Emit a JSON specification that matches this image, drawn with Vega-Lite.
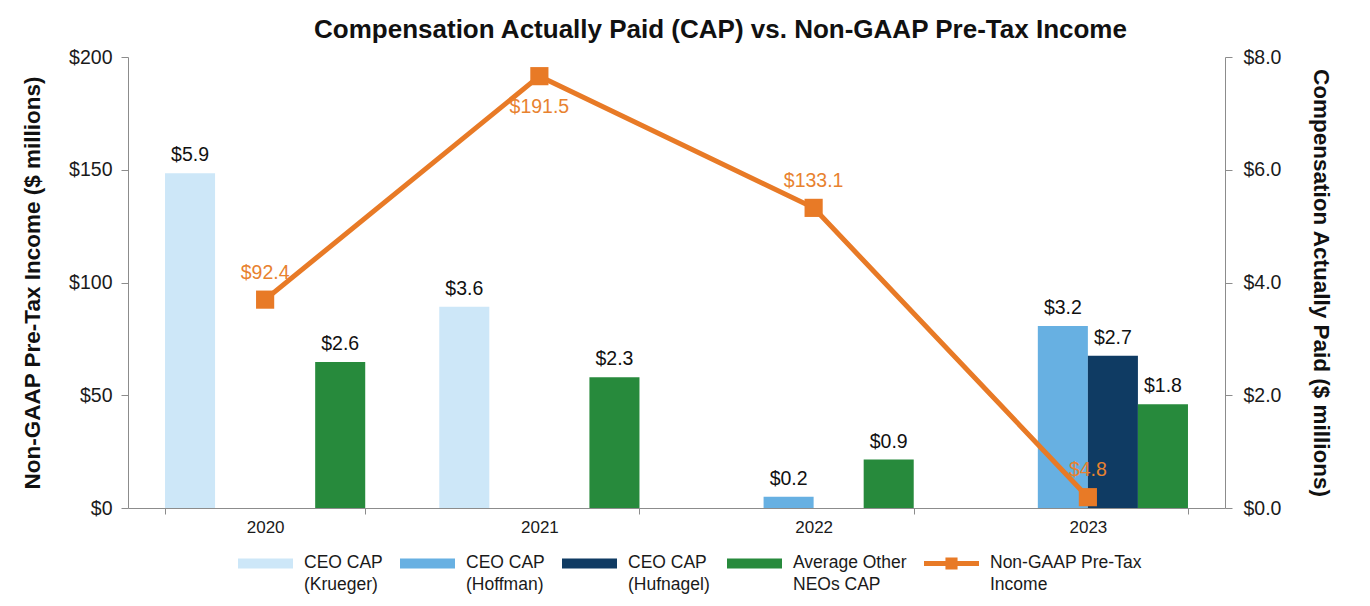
{
  "$schema": "https://vega.github.io/schema/vega-lite/v6.json",
  "width": 1097,
  "height": 451,
  "autosize": {"type": "none"},
  "padding": {"left": 128, "top": 57, "right": 145, "bottom": 98},
  "background": "white",
  "config": {
    "font": "Liberation Sans",
    "view": {"stroke": null},
    "axis": {"grid": false, "domainColor": "#8c8c8c", "tickColor": "#8c8c8c", "labelColor": "#1a1a1a", "titleColor": "#111111"}
  },
  "title": {"text": "Compensation Actually Paid (CAP) vs. Non-GAAP Pre-Tax Income", "fontSize": 26, "fontWeight": "bold", "color": "#111111", "anchor": "middle", "dx": 44, "offset": 4},
  "datasets": {
    "bars": [
      {"year": "2020", "series": "CEO CAP (Krueger)", "value": 5.94},
      {"year": "2020", "series": "Average Other NEOs CAP", "value": 2.59},
      {"year": "2021", "series": "CEO CAP (Krueger)", "value": 3.57},
      {"year": "2021", "series": "Average Other NEOs CAP", "value": 2.32},
      {"year": "2022", "series": "CEO CAP (Hoffman)", "value": 0.2},
      {"year": "2022", "series": "Average Other NEOs CAP", "value": 0.86},
      {"year": "2023", "series": "CEO CAP (Hoffman)", "value": 3.23},
      {"year": "2023", "series": "CEO CAP (Hufnagel)", "value": 2.7},
      {"year": "2023", "series": "Average Other NEOs CAP", "value": 1.84}
    ],
    "income": [
      {"year": "2020", "income": 92.4},
      {"year": "2021", "income": 191.5},
      {"year": "2022", "income": 133.1},
      {"year": "2023", "income": 4.8}
    ]
  },
  "layer": [
    {
      "data": {"name": "bars"},
      "encoding": {
        "x": {"field": "year", "type": "nominal", "scale": {"paddingInner": 0.27, "paddingOuter": 0.135},
          "axis": {"title": null, "labelFontSize": 17, "labelAngle": 0, "tickBand": "extent", "tickSize": 6, "labelPadding": 5}},
        "xOffset": {"field": "series", "type": "nominal", "scale": {"domain": ["CEO CAP (Krueger)", "CEO CAP (Hoffman)", "CEO CAP (Hufnagel)", "Average Other NEOs CAP"], "paddingInner": 0, "paddingOuter": 0}},
        "y": {"field": "value", "type": "quantitative", "scale": {"domain": [0, 8]},
          "axis": {"orient": "right", "values": [0, 2, 4, 6, 8], "format": "$.1f", "title": "Compensation Actually Paid ($ millions)", "titleFontSize": 22.5, "titleFontWeight": "bold", "labelFontSize": 19.5, "tickSize": 7, "labelPadding": 11, "titlePadding": 28}}
      },
      "layer": [
        {
          "mark": {"type": "bar"},
          "encoding": {
            "color": {"field": "series", "type": "nominal",
              "scale": {"domain": ["CEO CAP (Krueger)", "CEO CAP (Hoffman)", "CEO CAP (Hufnagel)", "Average Other NEOs CAP", "Non-GAAP Pre-Tax Income"], "range": ["#cde7f8", "#67b0e2", "#0f3b63", "#278a3c", "#e87a26"]},
              "legend": {
                "orient": "none", "legendX": 110, "legendY": 479, "direction": "horizontal", "columns": 5, "title": null,
                "symbolSize": 3025, "labelFontSize": 17.5, "labelColor": "#1a1a1a", "labelOffset": 11, "columnPadding": 17,
                "labelBaseline": "top", "labelLimit": 260,
                "labelExpr": "indexof(datum.label,'(')>0 ? [substring(datum.label,0,7), substring(datum.label,8)] : (datum.label=='Average Other NEOs CAP' ? ['Average Other','NEOs CAP'] : ['Non-GAAP Pre-Tax','Income'])",
                "encode": {
                  "symbols": {"update": {
                    "shape": {"signal": "datum.value === 'Non-GAAP Pre-Tax Income' ? 'M-1,-0.09L1,-0.09L1,0.09L-1,0.09Z M-0.22,-0.22L0.22,-0.22L0.22,0.22L-0.22,0.22Z' : 'M-1,-0.18L1,-0.18L1,0.18L-1,0.18Z'"},
                    "fill": {"signal": "scale('color', datum.value)"},
                    "fillOpacity": {"value": 1},
                    "strokeWidth": {"value": 0}
                  }},
                  "labels": {"update": {"dy": {"value": -10}, "lineHeight": {"value": 22}}}
                }
              }
            }
          }
        },
        {
          "mark": {"type": "text", "fontSize": 19.5, "baseline": "bottom", "dy": -8, "color": "#111111"},
          "encoding": {"text": {"field": "value", "type": "quantitative", "format": "$.1f"}}
        }
      ]
    },
    {
      "data": {"name": "income"},
      "encoding": {
        "x": {"field": "year", "type": "nominal"},
        "y": {"field": "income", "type": "quantitative", "scale": {"domain": [0, 200]},
          "axis": {"orient": "left", "values": [0, 50, 100, 150, 200], "format": "$,.0f", "title": "Non-GAAP Pre-Tax Income ($ millions)", "titleFontSize": 22.5, "titleFontWeight": "bold", "labelFontSize": 19.5, "tickSize": 7, "labelPadding": 9, "titlePadding": 24}}
      },
      "layer": [
        {"mark": {"type": "line", "strokeWidth": 5}, "encoding": {"color": {"datum": "Non-GAAP Pre-Tax Income"}}},
        {"mark": {"type": "square", "size": 330, "filled": true, "opacity": 1}, "encoding": {"color": {"datum": "Non-GAAP Pre-Tax Income"}}},
        {"transform": [{"filter": "datum.year != '2021'"}],
          "mark": {"type": "text", "fontSize": 19.5, "baseline": "bottom", "dy": -17, "color": "#e8822f"},
          "encoding": {"text": {"field": "income", "type": "quantitative", "format": "$.1f"}}},
        {"transform": [{"filter": "datum.year == '2021'"}],
          "mark": {"type": "text", "fontSize": 19.5, "baseline": "top", "dy": 22, "color": "#e8822f"},
          "encoding": {"text": {"field": "income", "type": "quantitative", "format": "$.1f"}}}
      ]
    }
  ],
  "resolve": {"scale": {"y": "independent"}}
}
